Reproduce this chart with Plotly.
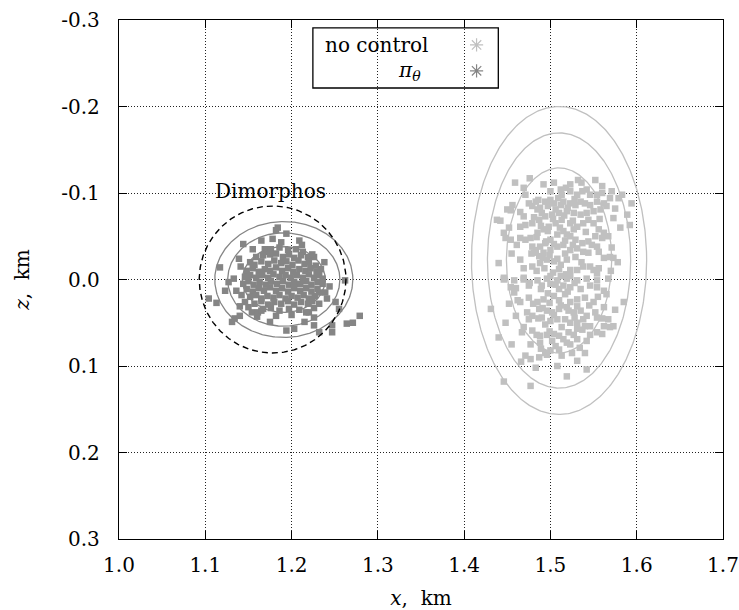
import numpy as np
import plotly.graph_objects as go

# ---------------- data (km) ----------------
X_TICKS = [1.0, 1.1, 1.2, 1.3, 1.4, 1.5, 1.6, 1.7]
X_TICK_LABELS = ["1.0", "1.1", "1.2", "1.3", "1.4", "1.5", "1.6", "1.7"]
Z_TICKS = [-0.3, -0.2, -0.1, 0.0, 0.1, 0.2, 0.3]
Z_TICK_LABELS = ["-0.3", "-0.2", "-0.1", "0.0", "0.1", "0.2", "0.3"]

SERIES_NAMES = ["no control", "π<sub>θ</sub>"]

# "no control" impact points (x, z)
NO_CONTROL_POINTS = [
    (1.476, -0.117), (1.459, -0.112), (1.492, -0.110), (1.504, -0.112), (1.523, -0.110),
    (1.536, -0.112), (1.552, -0.115), (1.518, -0.106), (1.469, -0.106), (1.471, -0.098),
    (1.500, -0.102), (1.512, -0.104), (1.513, -0.098), (1.523, -0.102), (1.531, -0.098),
    (1.537, -0.102), (1.542, -0.104), (1.546, -0.098), (1.554, -0.098), (1.560, -0.100),
    (1.569, -0.094), (1.579, -0.094), (1.583, -0.098), (1.571, -0.102), (1.594, -0.088),
    (1.573, -0.071), (1.589, -0.075), (1.592, -0.063), (1.456, -0.086), (1.450, -0.081),
    (1.454, -0.080), (1.438, -0.069), (1.442, -0.068), (1.465, -0.078), (1.469, -0.073),
    (1.475, -0.088), (1.479, -0.085), (1.483, -0.090), (1.485, -0.081), (1.488, -0.083),
    (1.494, -0.090), (1.500, -0.092), (1.504, -0.088), (1.506, -0.081), (1.512, -0.086),
    (1.515, -0.090), (1.523, -0.088), (1.529, -0.086), (1.535, -0.090), (1.540, -0.088),
    (1.546, -0.086), (1.554, -0.090), (1.562, -0.088), (1.565, -0.085), (1.558, -0.081),
    (1.550, -0.079), (1.542, -0.077), (1.535, -0.075), (1.527, -0.077), (1.519, -0.079),
    (1.510, -0.077), (1.502, -0.075), (1.494, -0.073), (1.487, -0.069), (1.479, -0.065),
    (1.471, -0.063), (1.465, -0.061), (1.446, -0.054), (1.448, -0.048), (1.454, -0.046),
    (1.465, -0.048), (1.471, -0.046), (1.477, -0.048), (1.485, -0.054), (1.492, -0.058),
    (1.498, -0.061), (1.506, -0.065), (1.513, -0.069), (1.523, -0.065), (1.531, -0.061),
    (1.538, -0.065), (1.544, -0.069), (1.550, -0.065), (1.556, -0.058), (1.562, -0.054),
    (1.560, -0.048), (1.552, -0.050), (1.544, -0.044), (1.537, -0.042), (1.529, -0.046),
    (1.523, -0.050), (1.515, -0.056), (1.508, -0.052), (1.500, -0.046), (1.494, -0.042),
    (1.488, -0.038), (1.483, -0.034), (1.479, -0.038), (1.481, -0.031), (1.487, -0.027),
    (1.492, -0.031), (1.500, -0.034), (1.508, -0.038), (1.515, -0.040), (1.523, -0.034),
    (1.531, -0.036), (1.538, -0.032), (1.544, -0.031), (1.554, -0.038), (1.556, -0.032),
    (1.562, -0.025), (1.569, -0.026), (1.573, -0.025), (1.571, -0.037), (1.440, -0.019),
    (1.465, -0.023), (1.469, -0.013), (1.479, -0.015), (1.488, -0.019), (1.496, -0.023),
    (1.504, -0.021), (1.512, -0.017), (1.519, -0.023), (1.523, -0.011), (1.531, -0.011),
    (1.538, -0.015), (1.546, -0.015), (1.550, -0.011), (1.556, -0.013), (1.554, -0.007),
    (1.500, -0.004), (1.512, -0.004), (1.523, -0.004), (1.469, -0.002), (1.446, -0.002),
    (1.446, 0.000), (1.458, 0.001), (1.469, 0.000), (1.485, 0.001), (1.496, -0.001),
    (1.508, 0.001), (1.519, -0.001), (1.531, 0.001), (1.542, -0.001), (1.554, 0.001),
    (1.567, -0.001), (1.454, 0.009), (1.458, 0.015), (1.475, 0.007), (1.490, 0.007),
    (1.500, 0.005), (1.510, 0.011), (1.515, 0.007), (1.523, 0.009), (1.535, 0.011),
    (1.546, 0.007), (1.554, 0.009), (1.562, 0.013), (1.565, 0.017), (1.462, 0.024),
    (1.465, 0.026), (1.452, 0.028), (1.475, 0.021), (1.485, 0.026), (1.492, 0.023),
    (1.504, 0.019), (1.510, 0.024), (1.517, 0.017), (1.523, 0.026), (1.531, 0.023),
    (1.540, 0.021), (1.550, 0.026), (1.562, 0.032), (1.585, 0.026), (1.431, 0.034),
    (1.460, 0.042), (1.473, 0.038), (1.479, 0.042), (1.487, 0.034), (1.496, 0.036),
    (1.502, 0.038), (1.510, 0.034), (1.519, 0.032), (1.527, 0.038), (1.535, 0.036),
    (1.542, 0.042), (1.552, 0.038), (1.554, 0.044), (1.567, 0.046), (1.469, 0.055),
    (1.475, 0.046), (1.490, 0.044), (1.500, 0.048), (1.508, 0.046), (1.517, 0.046),
    (1.523, 0.050), (1.531, 0.050), (1.538, 0.046), (1.540, 0.054), (1.546, 0.054),
    (1.562, 0.054), (1.569, 0.055), (1.573, 0.054), (1.467, 0.061), (1.479, 0.059),
    (1.488, 0.065), (1.496, 0.064), (1.504, 0.063), (1.510, 0.065), (1.521, 0.061),
    (1.531, 0.057), (1.554, 0.061), (1.560, 0.063), (1.440, 0.067), (1.477, 0.075),
    (1.488, 0.073), (1.494, 0.085), (1.502, 0.071), (1.506, 0.077), (1.510, 0.081),
    (1.519, 0.073), (1.523, 0.075), (1.531, 0.069), (1.542, 0.071), (1.471, 0.088),
    (1.477, 0.092), (1.487, 0.090), (1.496, 0.087), (1.525, 0.085), (1.531, 0.094),
    (1.483, 0.102), (1.542, 0.104), (1.519, 0.112), (1.446, 0.118), (1.477, 0.123),
    (1.486, -0.092), (1.497, -0.085), (1.509, -0.094), (1.520, -0.083), (1.528, -0.093),
    (1.490, -0.077), (1.503, -0.070), (1.516, -0.074), (1.526, -0.068), (1.481, -0.072),
    (1.489, -0.062), (1.497, -0.056), (1.511, -0.060), (1.519, -0.052), (1.527, -0.058),
    (1.484, -0.049), (1.495, -0.044), (1.504, -0.041), (1.517, -0.045), (1.526, -0.040),
    (1.478, -0.030), (1.491, -0.025), (1.499, -0.028), (1.508, -0.024), (1.517, -0.030),
    (1.529, -0.026), (1.484, -0.010), (1.493, -0.013), (1.503, -0.008), (1.510, -0.012),
    (1.518, -0.006), (1.536, -0.020), (1.476, 0.004), (1.489, 0.011), (1.497, 0.016),
    (1.506, 0.006), (1.520, 0.014), (1.528, 0.004), (1.480, 0.028), (1.491, 0.033),
    (1.499, 0.027), (1.512, 0.030), (1.521, 0.036), (1.531, 0.031), (1.486, 0.045),
    (1.494, 0.052), (1.504, 0.041), (1.513, 0.055), (1.528, 0.044), (1.537, 0.058),
    (1.484, 0.064), (1.499, 0.060), (1.515, 0.069), (1.527, 0.064), (1.546, 0.064),
    (1.489, 0.080), (1.500, 0.082), (1.513, 0.088), (1.534, 0.079), (1.541, -0.055),
    (1.548, -0.040), (1.557, -0.070), (1.567, -0.050), (1.575, -0.082), (1.581, -0.060),
    (1.455, -0.030), (1.461, -0.040), (1.452, -0.060), (1.460, 0.010), (1.448, 0.050),
    (1.455, 0.075), (1.545, 0.030), (1.555, 0.020), (1.560, 0.045), (1.575, 0.035),
    (1.570, -0.010), (1.578, -0.020), (1.540, 0.085), (1.466, 0.095), (1.508, 0.100),
    (1.532, -0.115), (1.560, -0.108),
]

# "pi_theta" impact points (x, z)
PI_THETA_POINTS = [
    (1.184, -0.060), (1.182, -0.057), (1.194, -0.053), (1.165, -0.045), (1.178, -0.047),
    (1.144, -0.041), (1.155, -0.035), (1.169, -0.035), (1.209, -0.045), (1.226, -0.026),
    (1.117, -0.014), (1.133, -0.001), (1.127, 0.003), (1.123, 0.013), (1.104, 0.022),
    (1.113, 0.027), (1.142, 0.018), (1.140, 0.031), (1.150, 0.032), (1.154, 0.038),
    (1.161, 0.038), (1.165, 0.036), (1.175, 0.049), (1.194, 0.059), (1.203, 0.057),
    (1.226, 0.044), (1.226, 0.053), (1.232, 0.061), (1.241, 0.022), (1.251, 0.026),
    (1.255, 0.034), (1.247, 0.053), (1.247, 0.061), (1.232, 0.015), (1.239, 0.015),
    (1.131, 0.049), (1.134, 0.045), (1.140, 0.042), (1.182, 0.042), (1.215, 0.049),
    (1.220, 0.038), (1.262, 0.001), (1.264, 0.051), (1.279, 0.042), (1.271, 0.050),
    (1.171, -0.032), (1.176, -0.035), (1.186, -0.037), (1.196, -0.034), (1.205, -0.035),
    (1.213, -0.032), (1.159, -0.026), (1.167, -0.028), (1.175, -0.029), (1.182, -0.030),
    (1.190, -0.026), (1.197, -0.029), (1.203, -0.025), (1.211, -0.028), (1.219, -0.026),
    (1.224, -0.029), (1.152, -0.020), (1.157, -0.017), (1.165, -0.021), (1.173, -0.018),
    (1.180, -0.022), (1.188, -0.019), (1.194, -0.021), (1.201, -0.017), (1.208, -0.022),
    (1.215, -0.018), (1.220, -0.020), (1.228, -0.016), (1.148, -0.010), (1.155, -0.013),
    (1.162, -0.009), (1.169, -0.012), (1.175, -0.010), (1.182, -0.014), (1.189, -0.010),
    (1.196, -0.013), (1.202, -0.009), (1.209, -0.012), (1.216, -0.010), (1.222, -0.013),
    (1.229, -0.009), (1.234, -0.012), (1.146, -0.003), (1.152, -0.005), (1.159, -0.002),
    (1.166, -0.005), (1.173, -0.002), (1.179, -0.006), (1.186, -0.003), (1.193, -0.005),
    (1.199, -0.002), (1.206, -0.005), (1.213, -0.002), (1.220, -0.006), (1.226, -0.002),
    (1.232, -0.005), (1.236, -0.001), (1.144, 0.005), (1.150, 0.002), (1.156, 0.006),
    (1.163, 0.003), (1.170, 0.006), (1.176, 0.002), (1.183, 0.005), (1.190, 0.002),
    (1.197, 0.006), (1.203, 0.003), (1.210, 0.005), (1.217, 0.002), (1.223, 0.006),
    (1.230, 0.003), (1.236, 0.005), (1.136, 0.013), (1.148, 0.011), (1.155, 0.014),
    (1.162, 0.010), (1.168, 0.013), (1.175, 0.009), (1.182, 0.013), (1.189, 0.010),
    (1.196, 0.014), (1.203, 0.010), (1.210, 0.013), (1.217, 0.010), (1.223, 0.014),
    (1.230, 0.011), (1.152, 0.020), (1.159, 0.018), (1.165, 0.022), (1.172, 0.019),
    (1.179, 0.021), (1.186, 0.018), (1.193, 0.022), (1.200, 0.019), (1.207, 0.021),
    (1.214, 0.018), (1.220, 0.022), (1.227, 0.019), (1.157, 0.028), (1.165, 0.025),
    (1.173, 0.029), (1.180, 0.026), (1.188, 0.028), (1.196, 0.025), (1.203, 0.029),
    (1.211, 0.026), (1.219, 0.028), (1.224, 0.025), (1.167, 0.034), (1.176, 0.033),
    (1.186, 0.036), (1.197, 0.034), (1.209, 0.035), (1.217, 0.038), (1.226, 0.033),
    (1.139, -0.024), (1.146, 0.026), (1.232, 0.028), (1.238, -0.020), (1.244, 0.008),
    (1.141, -0.015), (1.188, -0.043), (1.200, 0.041), (1.160, 0.043), (1.212, -0.040),
]

# confidence ellipses: centre and semi-axes (x, z)
NO_CONTROL_CENTER = (1.510, -0.022)
NO_CONTROL_SEMI_X = [0.061, 0.083, 0.1015]
NO_CONTROL_SEMI_Z = [0.107, 0.1475, 0.178]
PI_THETA_CENTER = (1.191, 0.000)
PI_THETA_SEMI_X = [0.048, 0.065, 0.080]
PI_THETA_SEMI_Z = [0.038, 0.054, 0.067]

# Dimorphos outline
DIMORPHOS_CENTER = (1.178, 0.000)
DIMORPHOS_RADIUS = 0.085
DIMORPHOS_LABEL = "Dimorphos"

# ---------------- styles ----------------
FONT = "DejaVu Serif"
FS = 20
LIGHT = "#c0c0c0"
DARK = "#858585"

fig = go.Figure()
t = np.linspace(0, 2 * np.pi, 400)


def add_ellipses(center, ax, az, color):
    for a, b in zip(ax, az):
        fig.add_trace(go.Scatter(
            x=center[0] + a * np.cos(t), y=center[1] + b * np.sin(t),
            mode="lines", line=dict(color=color, width=1.3),
            hoverinfo="skip", showlegend=False))


add_ellipses(NO_CONTROL_CENTER, NO_CONTROL_SEMI_X, NO_CONTROL_SEMI_Z, LIGHT)
add_ellipses(PI_THETA_CENTER, PI_THETA_SEMI_X, PI_THETA_SEMI_Z, DARK)

for pts, col, name in [(NO_CONTROL_POINTS, LIGHT, SERIES_NAMES[0]),
                       (PI_THETA_POINTS, DARK, SERIES_NAMES[1])]:
    xs = [p[0] for p in pts]
    zs = [p[1] for p in pts]
    fig.add_trace(go.Scatter(
        x=xs, y=zs, mode="markers", name=name, showlegend=False,
        marker=dict(symbol="square", size=6.5, color=col, line=dict(width=0))))

# Dimorphos dashed circle
fig.add_trace(go.Scatter(
    x=DIMORPHOS_CENTER[0] + DIMORPHOS_RADIUS * np.cos(t),
    y=DIMORPHOS_CENTER[1] + DIMORPHOS_RADIUS * np.sin(t),
    mode="lines", line=dict(color="black", width=1.4, dash="6px,4px"),
    hoverinfo="skip", showlegend=False))

# legend markers on an overlay [0,1] axis pair
LEG_X0, LEG_X1, LEG_Y0, LEG_Y1 = 0.321, 0.628, 0.869, 0.985
LEG_ROWS = [0.952, 0.902]
LEG_MARK_X = 0.592
fig.add_trace(go.Scatter(
    x=[LEG_MARK_X, LEG_MARK_X], y=LEG_ROWS, xaxis="x2", yaxis="y2",
    mode="markers", hoverinfo="skip", showlegend=False,
    marker=dict(symbol="asterisk-open", size=11, color=[LIGHT, DARK],
                line=dict(color=[LIGHT, DARK], width=1.2))))

fig.add_shape(type="rect", xref="paper", yref="paper",
              x0=LEG_X0, x1=LEG_X1, y0=LEG_Y0, y1=LEG_Y1,
              line=dict(color="black", width=1.3), fillcolor="white",
              layer="between")
fig.add_annotation(xref="paper", yref="paper", x=0.337, y=LEG_ROWS[0],
                   text=SERIES_NAMES[0], showarrow=False, xanchor="left",
                   yanchor="middle", font=dict(family=FONT, size=FS, color="black"))
fig.add_annotation(xref="paper", yref="paper", x=0.503, y=LEG_ROWS[1],
                   text="<i>" + SERIES_NAMES[1] + "</i>", showarrow=False,
                   xanchor="right", yanchor="middle",
                   font=dict(family=FONT, size=FS, color="black"))
fig.add_annotation(x=1.176, y=-0.102, text=DIMORPHOS_LABEL, showarrow=False,
                   xanchor="center", yanchor="middle",
                   font=dict(family=FONT, size=FS, color="black"))

axis_common = dict(
    showgrid=True, gridcolor="#222222", griddash="1px,2px", gridwidth=1,
    showline=True, linecolor="black", linewidth=1.3, mirror="ticks",
    ticks="inside", ticklen=8, tickwidth=1.2, tickcolor="black",
    zeroline=False, automargin=False,
    tickfont=dict(family=FONT, size=FS, color="black"),
)

fig.update_layout(
    width=739, height=610,
    margin=dict(l=119, r=16, t=20, b=71),
    plot_bgcolor="white", paper_bgcolor="white",
    showlegend=False,
    font=dict(family=FONT, size=FS, color="black"),
    xaxis=dict(range=[1.0, 1.7], tickvals=X_TICKS, ticktext=X_TICK_LABELS,
               ticklabelstandoff=8,
               title=dict(text="<i>x</i>,  km", standoff=15,
                          font=dict(family=FONT, size=FS, color="black")),
               **axis_common),
    yaxis=dict(range=[0.3, -0.3], tickvals=Z_TICKS, ticktext=Z_TICK_LABELS,
               ticklabelstandoff=14,
               title=dict(text="<i>z</i>,  km", standoff=26,
                          font=dict(family=FONT, size=FS, color="black")),
               **axis_common),
    xaxis2=dict(overlaying="x", range=[0, 1], visible=False),
    yaxis2=dict(overlaying="y", range=[0, 1], visible=False),
)

fig.write_html("out.html")
